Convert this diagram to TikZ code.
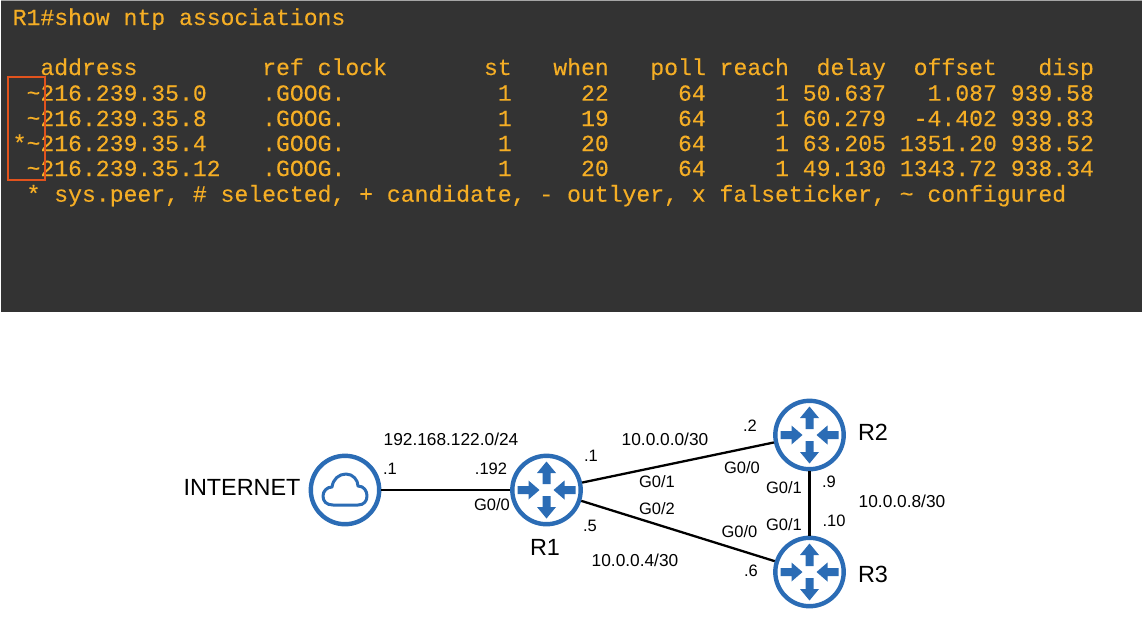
\documentclass[tikz,border=0pt]{standalone}
\usepackage{fontspec}
\setmainfont{Liberation Sans}
\setmonofont[FakeBold=0.25]{Liberation Mono}
\definecolor{termbg}{HTML}{333333}
\definecolor{termfg}{HTML}{F5AE25}
\definecolor{boxred}{HTML}{E2531D}
\definecolor{netblue}{HTML}{2B6CB5}
\newcommand\tld{\textasciitilde}
\tikzset{
  termline/.style={anchor=base west,inner sep=0pt,text=termfg,font=\fontsize{23.1}{26}\selectfont\ttfamily\frenchspacing},
  netc/.style={circle,draw=netblue,line width=4.4pt,fill=white,minimum size=68.4pt,inner sep=0pt},
  link/.style={black,line width=2.3pt},
  thicklink/.style={black,line width=2.8pt},
  lab/.style={inner sep=0pt,text=black,font=\fontsize{16.5}{19}\selectfont},
  iplab/.style={inner sep=0pt,text=black,font=\fontsize{17.3}{20}\selectfont},
  biglab/.style={inner sep=0pt,text=black,font=\fontsize{23.4}{26}\selectfont},
  routericon/.pic={
    \fill[netblue] (-4,-6) -- (-4,-17) -- (-9.5,-17) -- (0,-28.5) -- (9.5,-17) -- (4,-17) -- (4,-6) -- cycle;
    \fill[netblue] (-4,6) -- (-4,17) -- (-9.5,17) -- (0,28.5) -- (9.5,17) -- (4,17) -- (4,6) -- cycle;
    \fill[netblue] (-29,-4) -- (-18,-4) -- (-18,-9.5) -- (-7,0) -- (-18,9.5) -- (-18,4) -- (-29,4) -- cycle;
    \fill[netblue] (29,-4) -- (18,-4) -- (18,-9.5) -- (7,0) -- (18,9.5) -- (18,4) -- (29,4) -- cycle;
  },
  cloudicon/.pic={
    \draw[netblue,line width=3pt,line join=round]
      (-12,15) .. controls (-19,15) and (-22,11) .. (-22,6)
      .. controls (-22,1) and (-18,-3) .. (-13,-3)
      .. controls (-12,-11) and (-6,-16) .. (1,-16)
      .. controls (8,-16) and (13,-10) .. (13,-4)
      .. controls (19,-4) and (22,1) .. (22,6)
      .. controls (22,11) and (19,15) .. (13,15) -- cycle;
  },
}
\begin{document}
\begin{tikzpicture}[x=1pt,y=-1pt]
\useasboundingbox (0,0) rectangle (1142,622);
\fill[white] (0,0) rectangle (1142,622);
\fill[termbg] (1,0) rectangle (1142,312);
\fill[gray!70] (1,0) rectangle (1142,1);
\node[termline] (l0) at (12.5,25) {R1\#show ntp associations};
\node[termline] (l1) at (12.5,75) {~~address~~~~~~~~~ref clock~~~~~~~st~~~when~~~poll reach~~delay~~offset~~~disp};
\node[termline] (l2) at (12.5,100.7) {~\tld216.239.35.0~~~~.GOOG.~~~~~~~~~~~1~~~~~22~~~~~64~~~~~1 50.637~~~1.087 939.58};
\node[termline] (l3) at (12.5,126) {~\tld216.239.35.8~~~~.GOOG.~~~~~~~~~~~1~~~~~19~~~~~64~~~~~1 60.279~~-4.402 939.83};
\node[termline] (l4) at (12.5,151) {*\tld216.239.35.4~~~~.GOOG.~~~~~~~~~~~1~~~~~20~~~~~64~~~~~1 63.205 1351.20 938.52};
\node[termline] (l5) at (12.5,176) {~\tld216.239.35.12~~~.GOOG.~~~~~~~~~~~1~~~~~20~~~~~64~~~~~1 49.130 1343.72 938.34};
\node[termline] (l6) at (12.5,201.7) {~* sys.peer, \# selected, + candidate, - outlyer, x falseticker, \tld{} configured};
\draw[boxred,line width=2.4pt] (8,77) rectangle (45,180);

\node[netc] (inet) at (345,490) {};
\node[netc] (r1) at (546.5,490) {};
\node[netc] (r2) at (809.5,435) {};
\node[netc] (r3) at (809.5,572) {};
\draw[thicklink] (inet) -- (r1);
\draw[link] (r1) -- (r2);
\draw[link] (r1) -- (r3);
\draw[link] (r2) -- (r3);
\pic at (inet) {cloudicon};
\pic at (r1) {routericon};
\pic at (r2) {routericon};
\pic at (r3) {routericon};

\node[biglab] (tinet) at (242,487.5) {INTERNET};
\node[biglab] (tr1) at (545,547.5) {R1};
\node[biglab] (tr2) at (873,432.5) {R2};
\node[biglab] (tr3) at (873,574.5) {R3};
\node[iplab] (a1) at (451,439.5) {192.168.122.0/24};
\node[lab] (a2) at (390,469) {.1};
\node[lab] (a3) at (491,469) {.192};
\node[lab] (a4) at (492,505) {G0/0};
\node[lab] (b1) at (591,456) {.1};
\node[lab] (b2) at (590,526) {.5};
\node[iplab] (b3) at (665,439.5) {10.0.0.0/30};
\node[lab] (b4) at (750,426) {.2};
\node[lab] (b5) at (742,467.5) {G0/0};
\node[lab] (b6) at (657,481.5) {G0/1};
\node[lab] (b7) at (657,509) {G0/2};
\node[lab] (b8) at (739.5,532) {G0/0};
\node[iplab] (b9) at (635,560) {10.0.0.4/30};
\node[lab] (b10) at (751,571) {.6};
\node[lab] (c1) at (784,487.5) {G0/1};
\node[lab] (c2) at (784,525) {G0/1};
\node[lab] (c3) at (829,482) {.9};
\node[lab] (c4) at (834,521) {.10};
\node[iplab] (c5) at (902,501) {10.0.0.8/30};
\end{tikzpicture}
\end{document}
